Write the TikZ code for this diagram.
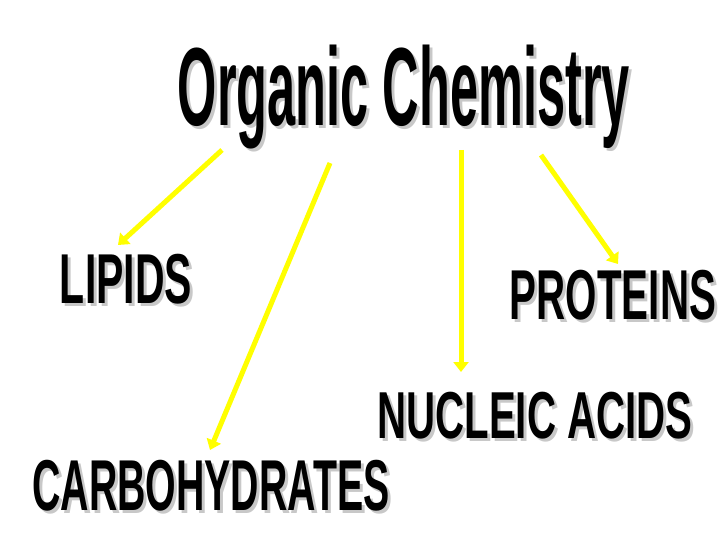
\documentclass[tikz,border=0pt]{standalone}
\usepackage{fontspec}
\setmainfont{Liberation Sans}
\usepackage{graphicx}
\usetikzlibrary{arrows.meta}
\definecolor{arrowyellow}{RGB}{255,255,0}
\definecolor{shadowgray}{RGB}{200,200,200}
\tikzset{
  word/.style={inner sep=0pt,font=\bfseries},
  link/.style={draw=arrowyellow,line width=5pt,-{Triangle[length=10pt,width=15pt]}}
}
% word art: stretched text with a grey shadow behind it
\newcommand{\wa}[3]{%
  \makebox[0pt][l]{\hspace{3pt}\raisebox{-3pt}{\color{shadowgray}\resizebox*{#1}{#2}{#3}}}%
  \resizebox*{#1}{#2}{#3}}

\begin{document}
\begin{tikzpicture}[x=1pt,y=-1pt]
  \useasboundingbox (0,0) rectangle (720,540);
  % title
  \node[word] (title) at (404,99) {\wa{452pt}{104pt}{Organic Chemistry}};
  % the four groups
  \node[word] (lipids) at (126,281) {\wa{132pt}{50pt}{LIPIDS}};
  \node[word] (proteins) at (613,297) {\wa{206pt}{50pt}{PROTEINS}};
  \node[word] (nucleic) at (535,417) {\wa{315pt}{47pt}{NUCLEIC ACIDS}};
  \node[word] (carbs) at (211,487) {\wa{357pt}{51pt}{CARBOHYDRATES}};
  % arrow ends
  \coordinate (a1) at (222,150);
  \coordinate (a2) at (330,163);
  \coordinate (a3) at (461,150);
  \coordinate (a4) at (541,155);
  \coordinate (t1) at (118,245);
  \coordinate (t2) at (210,450);
  \coordinate (t3) at (461,372);
  \coordinate (t4) at (618,264);
  \draw[link] (a1) -- (t1);
  \draw[link] (a2) -- (t2);
  \draw[link] (a3) -- (t3);
  \draw[link] (a4) -- (t4);
\end{tikzpicture}
\end{document}
